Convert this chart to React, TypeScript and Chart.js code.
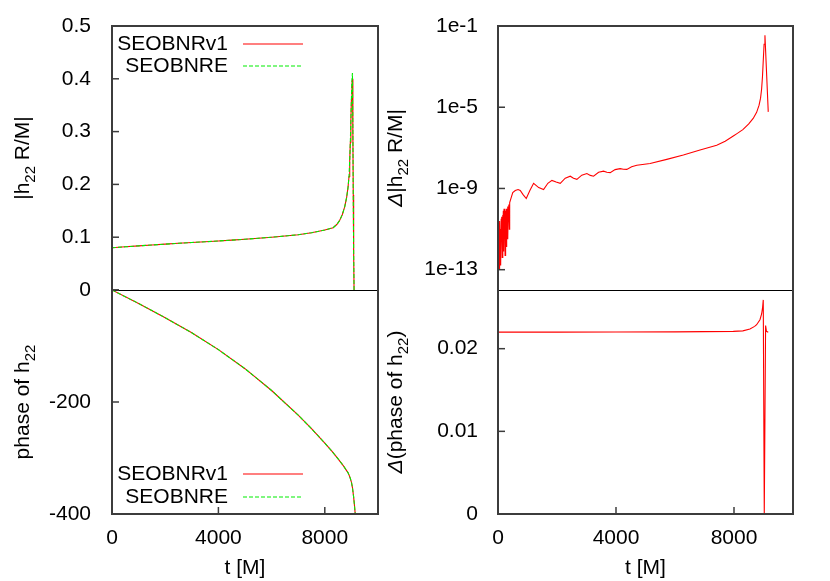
import React, { useEffect, useRef } from "react";
import { Chart, registerables } from "chart.js";

Chart.register(...registerables);

const W = 830;
const H = 581;
const FONT = '"Liberation Sans", Arial, Helvetica, sans-serif';

// ---------------- data ----------------
const seriesNames = ["SEOBNRv1", "SEOBNRE"];

// |h22 R/M| (top left)
const tAmp = [0, 500, 1000, 1500, 2000, 2500, 3000, 3500, 4000, 4500, 5000, 5500, 6000, 6500, 7000, 7500, 8000, 8312, 8450, 8562, 8660, 8750, 8820, 8875, 8910, 8937, 8960, 8980, 9000, 9020, 9038, 9055, 9070, 9085, 9100];
const ampV1 = [0.08, 0.0818, 0.0836, 0.0853, 0.0869, 0.0884, 0.0899, 0.0914, 0.0929, 0.0945, 0.0962, 0.098, 0.1, 0.1022, 0.1047, 0.1085, 0.1135, 0.118, 0.124, 0.132, 0.143, 0.158, 0.175, 0.195, 0.215, 0.246, 0.28, 0.32, 0.36, 0.39, 0.4, 0.3, 0.18, 0.07, 0];
const ampE = [0.08, 0.0818, 0.0836, 0.0853, 0.0869, 0.0884, 0.0899, 0.0914, 0.0929, 0.0945, 0.0962, 0.098, 0.1, 0.1022, 0.1047, 0.1085, 0.1135, 0.118, 0.124, 0.132, 0.143, 0.158, 0.175, 0.195, 0.215, 0.246, 0.28, 0.32, 0.362, 0.395, 0.411, 0.305, 0.18, 0.07, 0];

// phase of h22 (bottom left)
const tPhase = [0, 1000, 2000, 3000, 4000, 5000, 6000, 7000, 7500, 8000, 8250, 8500, 8700, 8876, 8950, 9000, 9040, 9080, 9110, 9140, 9170];
const phaseV1 = [0, -24, -49.5, -76.5, -106.5, -140.5, -179.5, -223.5, -247.5, -273.5, -287, -301.5, -314, -326.5, -335, -343, -353, -368, -382, -398, -416];
const phaseE = [0, -24, -49.5, -76.5, -106.5, -140.5, -179.5, -223.5, -247.5, -273.5, -287, -301.5, -314, -326.5, -335, -343, -353, -368, -382, -398, -416];

// Delta |h22 R/M| (top right, log)
const tDAmp = [0, 12, 24, 36, 48, 60, 72, 84, 96, 108, 120, 132, 144, 156, 168, 180, 192, 204, 216, 228, 240, 252, 264, 276, 288, 300, 312, 324, 336, 348, 360, 372, 384, 396, 416, 500, 585, 680, 754, 850, 958, 1080, 1207, 1380, 1545, 1690, 1828, 1970, 2110, 2280, 2449, 2560, 2674, 2840, 3013, 3130, 3239, 3410, 3577, 3690, 3803, 3970, 4141, 4250, 4367, 4530, 4706, 5156, 5721, 6283, 6848, 7414, 7700, 7976, 8100, 8300, 8500, 8650, 8767, 8850, 8900, 8936, 8965, 8992, 9020, 9049, 9161];
const dAmp = [1e-11, 4e-13, 2e-11, 1e-12, 1e-13, 2.5e-11, 5e-13, 1e-11, 1.6e-13, 3.2e-11, 2.5e-12, 4e-11, 4e-13, 5e-11, 5e-12, 7.9e-11, 7.9e-13, 1e-10, 6.3e-12, 6.3e-11, 5e-13, 7.9e-11, 1.3e-11, 1e-10, 1.3e-12, 6.3e-11, 1.6e-11, 1.3e-10, 3.2e-12, 1e-10, 3.2e-11, 1.6e-10, 1e-11, 2e-10, 2.5e-10, 6.3e-10, 7.9e-10, 8.9e-10, 7.9e-10, 5e-10, 3.2e-10, 7.9e-10, 1.8e-9, 1.1e-9, 8.9e-10, 1.8e-9, 2.5e-9, 2.1e-9, 1.8e-9, 3.2e-9, 4e-9, 3.2e-9, 2.8e-9, 4.5e-9, 5.4e-9, 4.4e-9, 4e-9, 6.3e-9, 7.1e-9, 6.3e-9, 6e-9, 8.5e-9, 9.5e-9, 8.9e-9, 8.7e-9, 1.17e-8, 1.38e-8, 1.7e-8, 2.7e-8, 4.4e-8, 7.8e-8, 1.35e-7, 2.1e-7, 3.8e-7, 5e-7, 7.9e-7, 1.5e-6, 2.8e-6, 5.6e-6, 1.26e-5, 2.8e-5, 7.9e-5, 3.2e-4, 2e-3, 1.26e-2, 3.5e-2, 5.9e-6];

// Delta(phase of h22) (bottom right)
const tDPhase = [0, 2000, 4000, 6000, 7000, 7976, 8300, 8541, 8700, 8767, 8880, 8936, 8970, 8992, 9026, 9071, 9100, 9161];
const dPhase = [0.022, 0.022, 0.02201, 0.02203, 0.02206, 0.0221, 0.02216, 0.02237, 0.0227, 0.0229, 0.0235, 0.0242, 0.025, 0.0259, 0, 0.0228, 0.0221, 0.022];

const xTicks = [0, 4000, 8000];
const ampTicks = [0, 0.1, 0.2, 0.3, 0.4, 0.5];
const phaseTicks = [-400, -200, 0];
const dAmpTicks = [1e-13, 1e-9, 1e-5, 1e-1];
const dPhaseTicks = [0, 0.01, 0.02];

// ---------------- helpers ----------------
const RED = "#ff0000";
const GREEN = "#00ee00";
const BORDER = "#3c3c3c";

const pts = (ts: number[], vs: number[]) => ts.map((t, i) => ({ x: t, y: vs[i] }));

type Part = { t: string; sub?: boolean; italic?: boolean };

function drawRich(ctx: CanvasRenderingContext2D, parts: Part[], bx: number, cy: number, size: number) {
  ctx.save();
  ctx.translate(bx, cy);
  ctx.rotate(-Math.PI / 2);
  ctx.textAlign = "left";
  ctx.textBaseline = "alphabetic";
  ctx.fillStyle = "#000";
  const fonts = parts.map((p) => `${p.italic ? "italic " : ""}${p.sub ? Math.round(size * 0.7) : size}px ${FONT}`);
  const widths: number[] = [];
  let total = 0;
  parts.forEach((p, i) => {
    ctx.font = fonts[i];
    const w = ctx.measureText(p.t).width;
    widths.push(w);
    total += w;
  });
  let x = -total / 2;
  parts.forEach((p, i) => {
    ctx.font = fonts[i];
    ctx.fillText(p.t, x, p.sub ? size * 0.28 : 0);
    x += widths[i];
  });
  ctx.restore();
}

function seg(ctx: CanvasRenderingContext2D, x1: number, y1: number, x2: number, y2: number) {
  ctx.beginPath();
  ctx.moveTo(x1, y1);
  ctx.lineTo(x2, y2);
  ctx.stroke();
}

const decoPlugin = {
  id: "deco",
  afterDatasetsDraw(chart: any, _args: any, opts: any) {
    const ctx: CanvasRenderingContext2D = chart.ctx;
    const a = chart.chartArea;
    ctx.save();
    // inward ticks
    ctx.strokeStyle = BORDER;
    ctx.lineWidth = 1.5;
    const ys = chart.scales.y;
    ys.ticks.forEach((t: any) => {
      const py = ys.getPixelForValue(t.value);
      seg(ctx, a.left, py, a.left + 7, py);
    });
    if (opts.xTicks) {
      const xs = chart.scales.x;
      xs.ticks.forEach((t: any) => {
        const px = xs.getPixelForValue(t.value);
        seg(ctx, px, a.bottom, px, a.bottom - 7);
      });
    }
    // border
    ctx.strokeStyle = BORDER;
    ctx.lineWidth = 2;
    seg(ctx, a.left, a.top - (opts.divider === "top" ? 0 : 1), a.left, a.bottom + (opts.divider === "bottom" ? 0 : 1));
    seg(ctx, a.right, a.top - (opts.divider === "top" ? 0 : 1), a.right, a.bottom + (opts.divider === "bottom" ? 0 : 1));
    if (opts.divider !== "top") seg(ctx, a.left, a.top, a.right, a.top);
    if (opts.divider !== "bottom") seg(ctx, a.left, a.bottom, a.right, a.bottom);
    if (opts.divider === "bottom") {
      ctx.strokeStyle = "#000";
      ctx.lineWidth = 1;
      seg(ctx, a.left, a.bottom + 0.5, a.right, a.bottom + 0.5);
    }
    // y title
    drawRich(ctx, opts.yTitle, opts.yTitleX, (a.top + a.bottom) / 2, 21);
    // legend
    if (opts.legend) {
      ctx.font = `21px ${FONT}`;
      ctx.textAlign = "right";
      ctx.textBaseline = "middle";
      opts.legend.forEach((e: any) => {
        ctx.fillStyle = "#000";
        ctx.fillText(e.label, opts.legendTextRight, e.y);
        ctx.strokeStyle = e.color;
        ctx.lineWidth = 1.2;
        ctx.setLineDash(e.dash || []);
        seg(ctx, opts.legendLine[0], e.y, opts.legendLine[1], e.y);
        ctx.setLineDash([]);
      });
    }
    ctx.restore();
  },
};

type PanelDef = {
  area: { left: number; right: number; top: number; bottom: number };
  datasets: any[];
  y: any;
  xBottom: boolean;
  deco: any;
};

const YW = 90;
const XH = 67;

function makeConfig(p: PanelDef): any {
  const { area } = p;
  return {
    type: "line",
    data: { datasets: p.datasets },
    plugins: [decoPlugin],
    options: {
      animation: false,
      responsive: false,
      devicePixelRatio: 1,
      events: [],
      layout: {
        padding: {
          left: area.left - YW,
          right: W - area.right,
          top: area.top,
          bottom: p.xBottom ? H - area.bottom - XH : H - area.bottom,
        },
      },
      elements: { point: { radius: 0 }, line: { tension: 0, borderWidth: 1.1 } },
      plugins: { legend: { display: false }, tooltip: { enabled: false }, deco: p.deco },
      scales: {
        x: {
          type: "linear",
          min: 0,
          max: 10000,
          bounds: "data",
          display: p.xBottom,
          grid: { display: false },
          border: { display: false },
          afterBuildTicks: (s: any) => {
            s.ticks = xTicks.map((v) => ({ value: v }));
          },
          afterFit: (s: any) => {
            if (p.xBottom) s.height = XH;
          },
          ticks: {
            color: "#000",
            padding: 4,
            maxRotation: 0,
            autoSkip: false,
            font: { family: FONT, size: 21 },
            callback: (v: any) => String(v),
          },
          title: {
            display: p.xBottom,
            text: "t [M]",
            color: "#000",
            font: { family: FONT, size: 21 },
            padding: { top: 0, bottom: 0 },
          },
        },
        y: {
          bounds: "data",
          grid: { display: false },
          border: { display: false },
          afterFit: (s: any) => {
            s.width = YW;
          },
          ...p.y,
          ticks: {
            color: "#000",
            autoSkip: false,
            font: { family: FONT, size: 21 },
            ...p.y.ticks,
          },
        },
      },
    },
  };
}

const LEFT = { left: 112, right: 378 };
const RIGHT = { left: 498, right: 793 };
const TOPROW = { top: 26, bottom: 290 };
const BOTROW = { top: 290, bottom: 514 };

const legendDef = (y1: number, y2: number) => [
  { label: seriesNames[0], color: RED, y: y1 },
  { label: seriesNames[1], color: GREEN, y: y2, dash: [4, 2] },
];

const panels: PanelDef[] = [
  {
    area: { ...LEFT, ...TOPROW },
    xBottom: false,
    datasets: [
      { label: seriesNames[1], data: pts(tAmp, ampE), borderColor: GREEN, borderDash: [4, 2], order: 0 },
      { label: seriesNames[0], data: pts(tAmp, ampV1), borderColor: RED, order: 1 },
    ],
    y: {
      type: "linear",
      min: 0,
      max: 0.5,
      afterBuildTicks: (s: any) => {
        s.ticks = ampTicks.map((v) => ({ value: v }));
      },
      ticks: { padding: 13, callback: (v: any) => (v === 0 ? "" : String(v)) },
    },
    deco: {
      divider: "bottom",
      yTitle: [{ t: "|h" }, { t: "22", sub: true }, { t: " R/M|" }],
      yTitleX: 29,
      legend: legendDef(44, 66),
      legendTextRight: 228,
      legendLine: [243, 303],
    },
  },
  {
    area: { ...LEFT, ...BOTROW },
    xBottom: true,
    datasets: [
      { label: seriesNames[1], data: pts(tPhase, phaseE), borderColor: GREEN, borderDash: [4, 2], order: 0 },
      { label: seriesNames[0], data: pts(tPhase, phaseV1), borderColor: RED, order: 1 },
    ],
    y: {
      type: "linear",
      min: -400,
      max: 0,
      afterBuildTicks: (s: any) => {
        s.ticks = phaseTicks.map((v) => ({ value: v }));
      },
      ticks: { padding: 13, callback: (v: any) => String(v) },
    },
    deco: {
      divider: "top",
      xTicks: true,
      yTitle: [{ t: "phase of h" }, { t: "22", sub: true }],
      yTitleX: 29,
      legend: legendDef(474, 497),
      legendTextRight: 228,
      legendLine: [243, 303],
    },
  },
  {
    area: { ...RIGHT, ...TOPROW },
    xBottom: false,
    datasets: [{ label: "diff", data: pts(tDAmp, dAmp), borderColor: RED }],
    y: {
      type: "logarithmic",
      min: 1e-14,
      max: 1e-1,
      afterBuildTicks: (s: any) => {
        s.ticks = dAmpTicks.map((v) => ({ value: v }));
      },
      ticks: { padding: 12, callback: (v: any) => "1e" + Math.round(Math.log10(v)) },
    },
    deco: {
      divider: "bottom",
      yTitle: [{ t: "\u0394", italic: true }, { t: "|h" }, { t: "22", sub: true }, { t: " R/M|" }],
      yTitleX: 402,
    },
  },
  {
    area: { ...RIGHT, ...BOTROW },
    xBottom: true,
    datasets: [{ label: "diff", data: pts(tDPhase, dPhase), borderColor: RED }],
    y: {
      type: "linear",
      min: 0,
      max: 0.0271,
      afterBuildTicks: (s: any) => {
        s.ticks = dPhaseTicks.map((v) => ({ value: v }));
      },
      ticks: { padding: 12, callback: (v: any) => String(v) },
    },
    deco: {
      divider: "top",
      xTicks: true,
      yTitle: [{ t: "\u0394", italic: true }, { t: "(phase of h" }, { t: "22", sub: true }, { t: ")" }],
      yTitleX: 402,
    },
  },
];

export default function App() {
  const refs = useRef<(HTMLCanvasElement | null)[]>([]);
  useEffect(() => {
    const charts = panels.map((p, i) => new Chart(refs.current[i] as HTMLCanvasElement, makeConfig(p)));
    return () => charts.forEach((c) => c.destroy());
  }, []);
  return (
    <div style={{ position: "fixed", left: 0, top: 0, width: W, height: H, background: "#fff" }}>
      {panels.map((_, i) => (
        <canvas
          key={i}
          ref={(el) => {
            refs.current[i] = el;
          }}
          width={W}
          height={H}
          style={{ position: "absolute", left: 0, top: 0, width: W, height: H }}
        />
      ))}
    </div>
  );
}
